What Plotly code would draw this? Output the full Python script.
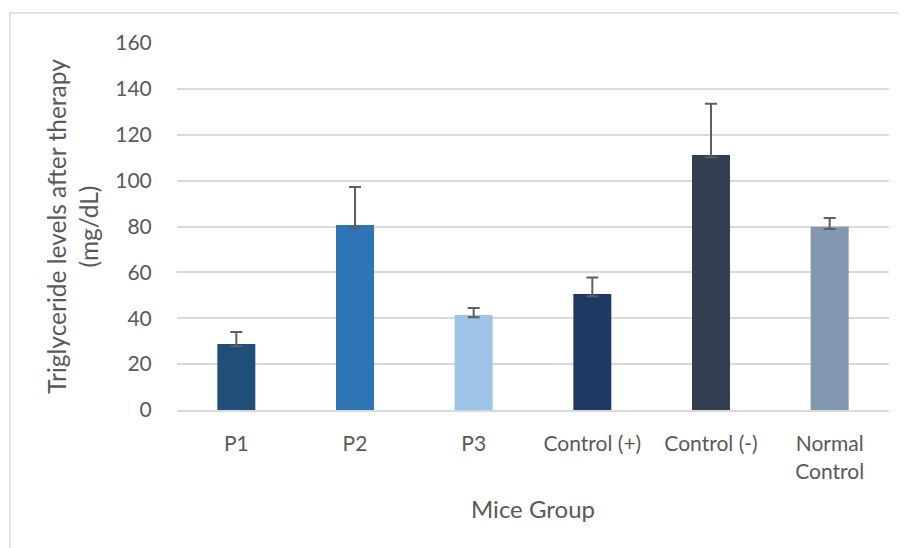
import plotly.graph_objects as go

categories = ["P1", "P2", "P3", "Control (+)", "Control (-)", "Normal<br>Control"]
values = [28.8, 80.6, 41.4, 50.6, 111.2, 79.9]
err_plus = [5.2, 16.6, 3.1, 7.2, 22.3, 3.8]
err_minus = [1.0, 1.0, 1.0, 1.0, 1.0, 1.0]
colors = ["#1F4E79", "#2E75B6", "#9DC3E6", "#203864", "#333F50", "#8497B0"]
y_ticks = [0, 20, 40, 60, 80, 100, 120, 140, 160]

font_family = "Lato, 'Open Sans', sans-serif"
txt = "#595959"

fig = go.Figure()
fig.add_trace(go.Bar(
    x=categories, y=values,
    marker=dict(color=colors, line=dict(width=0)),
    error_y=dict(type="data", array=err_plus, arrayminus=err_minus,
                 symmetric=False, color="#5F5F5F", thickness=2, width=6),
    showlegend=False,
))

fig.update_layout(
    width=898, height=540,
    paper_bgcolor="white", plot_bgcolor="white",
    margin=dict(l=169, r=17, t=35, b=138),
    bargap=0.68,
    font=dict(family=font_family, color=txt, size=21),
    xaxis=dict(
        showgrid=False, showline=True, linecolor="#D9D9D9", linewidth=2,
        ticks="outside", ticklen=14, tickcolor="rgba(0,0,0,0)",
        tickfont=dict(size=21, color=txt),
        title=dict(text="Mice Group", font=dict(size=24, color=txt), standoff=20),
    ),
    yaxis=dict(
        range=[0, 160], tickvals=y_ticks,
        showgrid=True, gridcolor="#D9D9D9", gridwidth=1.5,
        zeroline=False, showline=False,
        ticks="outside", ticklen=20, tickcolor="rgba(0,0,0,0)",
        tickfont=dict(size=21, color=txt),
        title=dict(text="Triglyceride levels after therapy<br>(mg/dL)",
                   font=dict(size=24.5, color=txt), standoff=9),
    ),
    shapes=[dict(type="rect", xref="paper", yref="paper",
                 x0=-167/712, x1=1.1, y0=-0.6, y1=1 + 30/367,
                 line=dict(color="#D9D9D9", width=1.5), fillcolor="rgba(0,0,0,0)",
                 layer="below")],
)

fig.write_html("out.html")
